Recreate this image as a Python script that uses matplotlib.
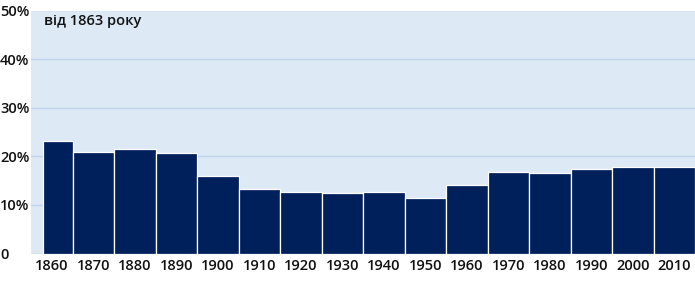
import matplotlib.pyplot as plt
from matplotlib.transforms import blended_transform_factory

# decades (bar left edges) and share of values
decades = [1860, 1870, 1880, 1890, 1900, 1910, 1920, 1930,
           1940, 1950, 1960, 1970, 1980, 1990, 2000, 2010]
bar_start = [1863] + decades[1:]
values = [23.1, 20.9, 21.5, 20.7, 15.9, 13.3, 12.7, 12.5,
          12.7, 11.4, 14.1, 16.7, 16.5, 17.4, 17.8, 17.8]
y_ticks = [0, 10, 20, 30, 40, 50]
y_labels = ['0', '10%', '20%', '30%', '40%', '50%']
note = 'від 1863 року'

plt.rcParams['font.family'] = ['Open Sans', 'DejaVu Sans']

BAR = '#00205b'
BG = '#dde9f5'
GRID = '#bcd4ec'

fig = plt.figure(figsize=(6.95, 2.85), dpi=100)
ax = fig.add_axes([31 / 695, 31.5 / 285, 664 / 695, 243 / 285])
ax.set_facecolor(BG)

bar_end = bar_start[1:] + [decades[-1] + 10]
widths = [e - s for s, e in zip(bar_start, bar_end)]
ax.bar(bar_start, values, width=widths, align='edge', color=BAR,
       edgecolor='white', linewidth=0.9, zorder=3)

ax.set_xlim(decades[0], decades[-1] + 10)
ax.set_ylim(0, 50)

ax.set_yticks(y_ticks)
ax.set_yticklabels(y_labels)
ax.grid(axis='y', color=GRID, linewidth=1, zorder=1)
ax.set_axisbelow(True)

ax.set_xticks([d + 5 for d in decades])
ax.set_xticklabels([str(d) for d in decades])

for s in ax.spines.values():
    s.set_visible(False)

ax.tick_params(axis='both', length=0, labelsize=10.5, colors='#111111')
ax.tick_params(axis='x', pad=4)
ax.tick_params(axis='y', pad=22.3)
for lbl in ax.get_yticklabels():
    lbl.set_horizontalalignment('left')
    lbl.set_fontweight('semibold')
for lbl in ax.get_xticklabels():
    lbl.set_fontweight('semibold')

trans = blended_transform_factory(ax.transData, ax.transAxes)
ax.text(1863.2, 0.987, note, transform=trans, ha='left', va='top',
        fontsize=10.5, fontweight='semibold', color='#111111')

fig.savefig('out.png', dpi=100)
